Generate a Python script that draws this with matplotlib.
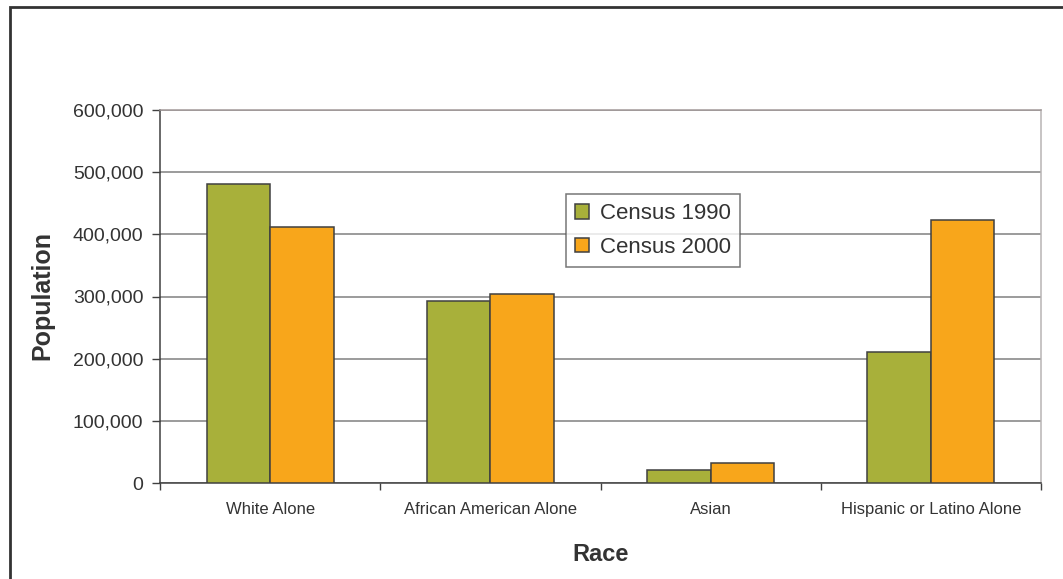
import numpy as np
import matplotlib
matplotlib.use("Agg")
import matplotlib.pyplot as plt
from matplotlib.patches import Rectangle
from matplotlib.ticker import FuncFormatter

categories = ["White Alone", "African American Alone", "Asian", "Hispanic or Latino Alone"]
census_1990 = [481000, 292000, 21000, 210500]
census_2000 = [411000, 304500, 32000, 423000]
series_names = ["Census 1990", "Census 2000"]
y_ticks = [0, 100000, 200000, 300000, 400000, 500000, 600000]

plt.rcParams['font.family'] = ['Liberation Sans', 'DejaVu Sans']
text_col = '#333333'
edge_col = '#404040'

fig = plt.figure(figsize=(10.63, 5.79), dpi=100)
W, H = 1063, 579
ax = fig.add_axes([160 / W, 1 - 483 / H, (1041 - 160) / W, (483 - 110) / H])

x = np.arange(len(categories))
bw = 0.288
ax.bar(x - bw / 2, census_1990, bw, color='#a8b03a', edgecolor=edge_col, linewidth=1.1,
       label=series_names[0], zorder=3)
ax.bar(x + bw / 2, census_2000, bw, color='#f8a61b', edgecolor=edge_col, linewidth=1.1,
       label=series_names[1], zorder=3)

ax.set_xlim(-0.5, len(categories) - 0.5)
ax.set_ylim(0, 600000)
ax.set_yticks(y_ticks)
ax.yaxis.set_major_formatter(FuncFormatter(lambda v, p: f'{int(v):,}'))
ax.tick_params(axis='y', labelsize=14, colors=edge_col, labelcolor=text_col,
               length=6, width=1, pad=6, direction='out')

# category boundaries as ticks, names in the middle
ax.set_xticks(np.arange(-0.5, len(categories), 1.0))
ax.set_xticklabels([])
ax.set_xticks(x, minor=True)
ax.set_xticklabels(categories, minor=True)
ax.tick_params(axis='x', which='major', length=5, width=1, colors=edge_col, direction='out')
ax.tick_params(axis='x', which='minor', length=0, labelsize=12, labelcolor=text_col, pad=14)

ax.grid(True, axis='y', color='#808080', linewidth=1.1, zorder=0)
ax.set_axisbelow(True)
ax.spines['left'].set_color(edge_col)
ax.spines['bottom'].set_color(edge_col)
ax.spines['top'].set_color('#a39a9a')
ax.spines['right'].set_color('#b8b4b4')
for s in ax.spines.values():
    s.set_linewidth(1.1)

leg = ax.legend(loc='upper left', bbox_to_anchor=(566 / W, 1 - 194 / H),
                bbox_transform=fig.transFigure, borderaxespad=0, fontsize=16,
                frameon=True, fancybox=False, handlelength=0.6, handleheight=0.6,
                handletextpad=0.5, labelspacing=0.55, borderpad=0.42)
leg.get_frame().set_edgecolor('#555555')
leg.get_frame().set_linewidth(1.1)
for t in leg.get_texts():
    t.set_color(text_col)

fig.text(42 / W, 1 - 296 / H, 'Population', rotation=90, ha='center', va='center',
         fontsize=18, fontweight='bold', color=text_col)
fig.text(601 / W, 1 - 561 / H, 'Race', ha='center', va='baseline',
         fontsize=17, fontweight='bold', color=text_col)

# outer chart border, cut off on the right and bottom like the reference
fig.patches.append(Rectangle((10 / W, -0.1), 1.2, 1.1 - 7 / H, transform=fig.transFigure,
                             fill=False, edgecolor='#333333', linewidth=2, figure=fig))

fig.savefig('out.png', dpi=100)
